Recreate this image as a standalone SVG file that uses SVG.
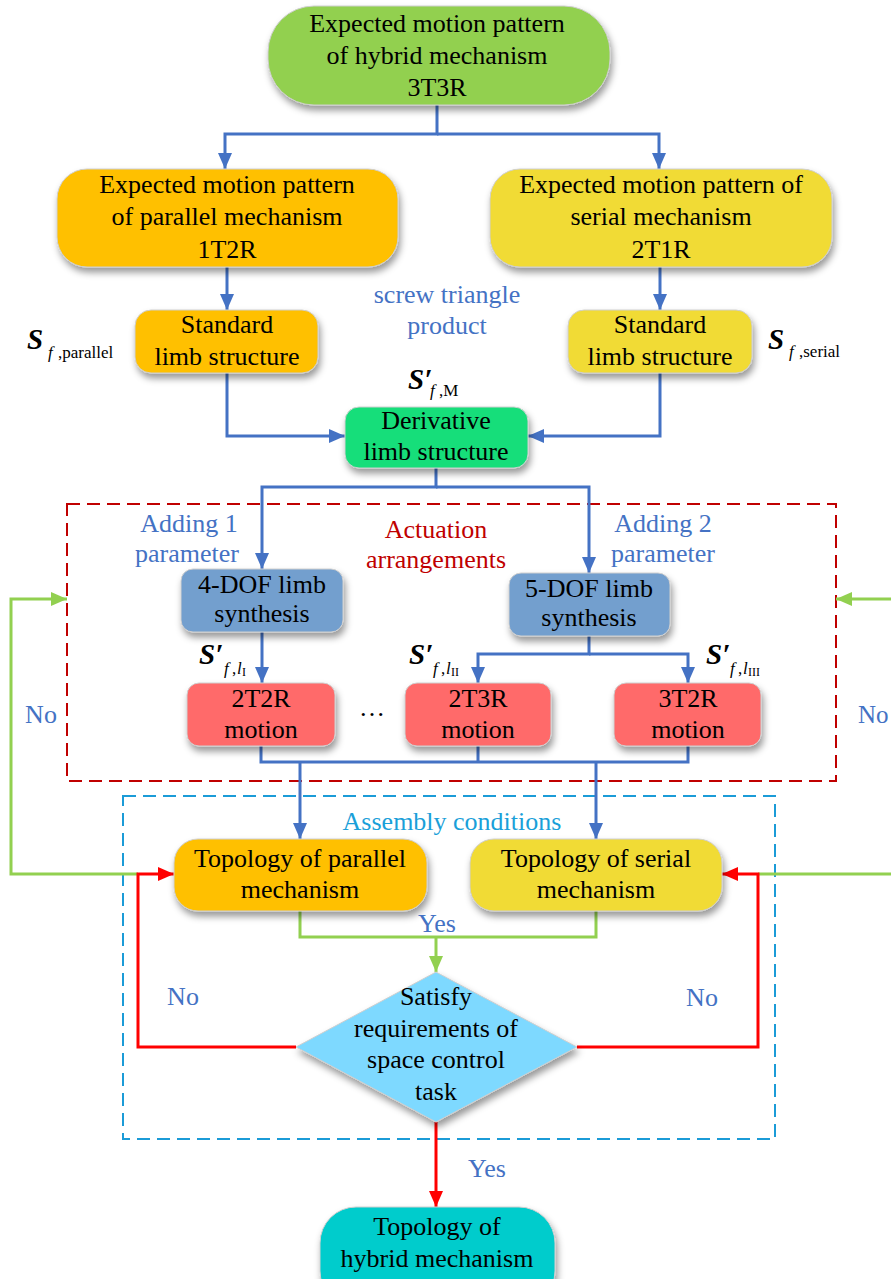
<svg xmlns="http://www.w3.org/2000/svg" width="891" height="1279" viewBox="0 0 891 1279">
<style>
.t{font-family:"Liberation Serif","Times New Roman",serif;font-size:26px;fill:#000;text-anchor:middle}
.lb{font-family:"Liberation Serif","Times New Roman",serif;font-size:26px;fill:#4472C4;text-anchor:middle}
.box{stroke:#cfcfcf;stroke-width:1;filter:url(#sh)}
.ms{font-family:"Liberation Serif","Times New Roman",serif;font-size:29px;font-weight:bold;font-style:italic;fill:#000}
.mi{font-family:"Liberation Serif","Times New Roman",serif;font-size:17px;font-style:italic;fill:#000}
.mr{font-family:"Liberation Serif","Times New Roman",serif;font-size:17px;fill:#000}
.mr2{font-family:"Liberation Serif","Times New Roman",serif;font-size:12px;fill:#000}
.cb{fill:none;stroke:#4472C4;stroke-width:3}
.cg{fill:none;stroke:#92D050;stroke-width:3}
.cr{fill:none;stroke:#FF0000;stroke-width:3}
</style>
<defs>
<filter id="sh" x="-20%" y="-20%" width="140%" height="170%">
<feDropShadow dx="2" dy="5" stdDeviation="3.5" flood-color="#000" flood-opacity="0.4"/>
</filter>
<marker id="ab" viewBox="0 0 16 14" refX="16" refY="7" markerWidth="16" markerHeight="14" orient="auto" markerUnits="userSpaceOnUse"><path d="M0,0 L16,7 L0,14 z" fill="#4472C4"/></marker>
<marker id="ag" viewBox="0 0 16 14" refX="16" refY="7" markerWidth="16" markerHeight="14" orient="auto" markerUnits="userSpaceOnUse"><path d="M0,0 L16,7 L0,14 z" fill="#92D050"/></marker>
<marker id="ar" viewBox="0 0 16 14" refX="16" refY="7" markerWidth="16" markerHeight="14" orient="auto" markerUnits="userSpaceOnUse"><path d="M0,0 L16,7 L0,14 z" fill="#FF0000"/></marker>
</defs>
<rect width="891" height="1279" fill="#fff"/>

<g id="regions">
<rect x="67" y="504" width="769" height="277" fill="none" stroke="#C00000" stroke-width="2" stroke-dasharray="13 7"/>
<rect x="123" y="796" width="652" height="343" fill="none" stroke="#1B9BD7" stroke-width="2" stroke-dasharray="13 7"/>
</g>

<g id="connectors">
<path class="cb" d="M437,105 V134 H225 V169" marker-end="url(#ab)"/>
<path class="cb" d="M437,134 H659 V169" marker-end="url(#ab)"/>
<path class="cb" d="M227,267 V310" marker-end="url(#ab)"/>
<path class="cb" d="M660,267 V310" marker-end="url(#ab)"/>
<path class="cb" d="M227,373 V436 H345" marker-end="url(#ab)"/>
<path class="cb" d="M660,373 V436 H528" marker-end="url(#ab)"/>
<path class="cb" d="M436,468 V487 H262 V569" marker-end="url(#ab)"/>
<path class="cb" d="M436,487 H589 V573" marker-end="url(#ab)"/>
<path class="cb" d="M262,632 V683" marker-end="url(#ab)"/>
<path class="cb" d="M589,636 V654 H478 V683" marker-end="url(#ab)"/>
<path class="cb" d="M589,654 H688 V683" marker-end="url(#ab)"/>
<path class="cb" d="M261,746 V762 H688 V746 M478,746 V762"/>
<path class="cb" d="M300,762 V839" marker-end="url(#ab)"/>
<path class="cb" d="M596,762 V839" marker-end="url(#ab)"/>
<path class="cg" d="M300,911 V937 H596 V911"/>
<path class="cg" d="M436,937 V972" marker-end="url(#ag)"/>
<path class="cg" d="M138,874 H11 V599 H67" marker-end="url(#ag)"/>
<path class="cg" d="M758,874 H895"/>
<path class="cg" d="M895,599 H836" marker-end="url(#ag)"/>
<path class="cr" d="M296,1047 H138 V874 H174" marker-end="url(#ar)"/>
<path class="cr" d="M577,1047 H758 V874 H722" marker-end="url(#ar)"/>
<path class="cr" d="M436,1122 V1207" marker-end="url(#ar)"/>
</g>

<g id="n_hybrid_pattern">
<rect class="box" x="268" y="6" width="342" height="99" rx="46" fill="#92D050"/>
<text class="t" x="437" y="32">Expected motion pattern</text>
<text class="t" x="437" y="64">of hybrid mechanism</text>
<text class="t" x="437" y="96">3T3R</text>
</g>
<g id="n_parallel_pattern">
<rect class="box" x="57" y="169" width="341" height="98" rx="30" fill="#FFC000"/>
<text class="t" x="227" y="193">Expected motion pattern</text>
<text class="t" x="227" y="225">of parallel mechanism</text>
<text class="t" x="227" y="258">1T2R</text>
</g>
<g id="n_serial_pattern">
<rect class="box" x="490" y="169" width="342" height="98" rx="30" fill="#F1DB35"/>
<text class="t" x="661" y="193">Expected motion pattern of</text>
<text class="t" x="661" y="225">serial mechanism</text>
<text class="t" x="661" y="258">2T1R</text>
</g>
<g id="n_std_parallel">
<rect class="box" x="135" y="310" width="183" height="63" rx="16" fill="#FFC000"/>
<text class="t" x="227" y="333">Standard</text>
<text class="t" x="227" y="365">limb structure</text>
</g>
<g id="n_std_serial">
<rect class="box" x="568" y="310" width="184" height="63" rx="16" fill="#F1DB35"/>
<text class="t" x="660" y="333">Standard</text>
<text class="t" x="660" y="365">limb structure</text>
</g>
<g id="n_derivative">
<rect class="box" x="345" y="407" width="183" height="61" rx="14" fill="#14DE7A"/>
<text class="t" x="436" y="429">Derivative</text>
<text class="t" x="436" y="460">limb structure</text>
</g>
<g id="n_4dof">
<rect class="box" x="181" y="569" width="162" height="63" rx="12" fill="#739FCE"/>
<text class="t" x="262" y="593">4-DOF limb</text>
<text class="t" x="262" y="622">synthesis</text>
</g>
<g id="n_5dof">
<rect class="box" x="509" y="573" width="161" height="63" rx="12" fill="#739FCE"/>
<text class="t" x="589" y="597">5-DOF limb</text>
<text class="t" x="589" y="626">synthesis</text>
</g>
<g id="n_2t2r">
<rect class="box" x="187" y="683" width="148" height="63" rx="12" fill="#FF6B6B"/>
<text class="t" x="261" y="707">2T2R</text>
<text class="t" x="261" y="738">motion</text>
</g>
<g id="n_2t3r">
<rect class="box" x="405" y="683" width="146" height="63" rx="12" fill="#FF6B6B"/>
<text class="t" x="478" y="707">2T3R</text>
<text class="t" x="478" y="738">motion</text>
</g>
<g id="n_3t2r">
<rect class="box" x="614" y="683" width="147" height="63" rx="12" fill="#FF6B6B"/>
<text class="t" x="688" y="707">3T2R</text>
<text class="t" x="688" y="738">motion</text>
</g>
<g id="n_topo_parallel">
<rect class="box" x="174" y="839" width="253" height="72" rx="24" fill="#FFC000"/>
<text class="t" x="300" y="867">Topology of parallel</text>
<text class="t" x="300" y="898">mechanism</text>
</g>
<g id="n_topo_serial">
<rect class="box" x="470" y="839" width="252" height="72" rx="24" fill="#F1DB35"/>
<text class="t" x="596" y="867">Topology of serial</text>
<text class="t" x="596" y="898">mechanism</text>
</g>
<g id="n_decision">
<polygon class="box" points="436,972 577,1047 436,1122 296,1047" fill="#7ED9FF"/>
<text class="t" x="436" y="1005">Satisfy</text>
<text class="t" x="436" y="1037">requirements of</text>
<text class="t" x="436" y="1068">space control</text>
<text class="t" x="436" y="1100">task</text>
</g>
<g id="n_hybrid_topology">
<rect class="box" x="320" y="1207" width="235" height="100" rx="36" fill="#00CCCC"/>
<text class="t" x="437" y="1235">Topology of</text>
<text class="t" x="437" y="1267">hybrid mechanism</text>
</g>

<g id="labels">
<text class="lb" x="447" y="303">screw triangle</text>
<text class="lb" x="447" y="334">product</text>
<text class="lb" x="189" y="532">Adding 1</text>
<text class="lb" x="187" y="562">parameter</text>
<text class="lb" x="663" y="532">Adding 2</text>
<text class="lb" x="663" y="562">parameter</text>
<text class="lb" x="436" y="538" style="fill:#C00000">Actuation</text>
<text class="lb" x="436" y="568" style="fill:#C00000">arrangements</text>
<text class="lb" x="452" y="830" style="fill:#1A9FD9">Assembly conditions</text>
<text class="lb" x="41" y="723">No</text>
<text class="lb" x="858" y="723" style="text-anchor:start;font-size:25px">No</text>
<text class="lb" x="437" y="932">Yes</text>
<text class="lb" x="183" y="1005">No</text>
<text class="lb" x="702" y="1006">No</text>
<text class="lb" x="487" y="1177">Yes</text>
<text class="t" x="372" y="716">…</text>

<text class="ms" x="27" y="349">S</text>
<text class="mi" x="48" y="358">f</text>
<text class="mr" x="58" y="358">,parallel</text>

<text class="ms" x="768" y="349">S</text>
<text class="mi" x="789" y="357">f</text>
<text class="mr" x="799" y="357">,serial</text>

<text class="ms" x="408" y="389">S′</text>
<text class="mi" x="430" y="396">f</text>
<text class="mr" x="439" y="396">,M</text>

<text class="ms" x="199" y="664">S′</text>
<text class="mi" x="224" y="674">f</text>
<text class="mr" x="232" y="674">,</text>
<text class="mi" x="237" y="674">l</text>
<text class="mr2" x="242" y="676">I</text>

<text class="ms" x="409" y="664">S′</text>
<text class="mi" x="433" y="674">f</text>
<text class="mr" x="441" y="674">,</text>
<text class="mi" x="446" y="674">l</text>
<text class="mr2" x="451" y="676">II</text>

<text class="ms" x="706" y="664">S′</text>
<text class="mi" x="730" y="674">f</text>
<text class="mr" x="738" y="674">,</text>
<text class="mi" x="743" y="674">l</text>
<text class="mr2" x="748" y="676">III</text>
</g>
</svg>
